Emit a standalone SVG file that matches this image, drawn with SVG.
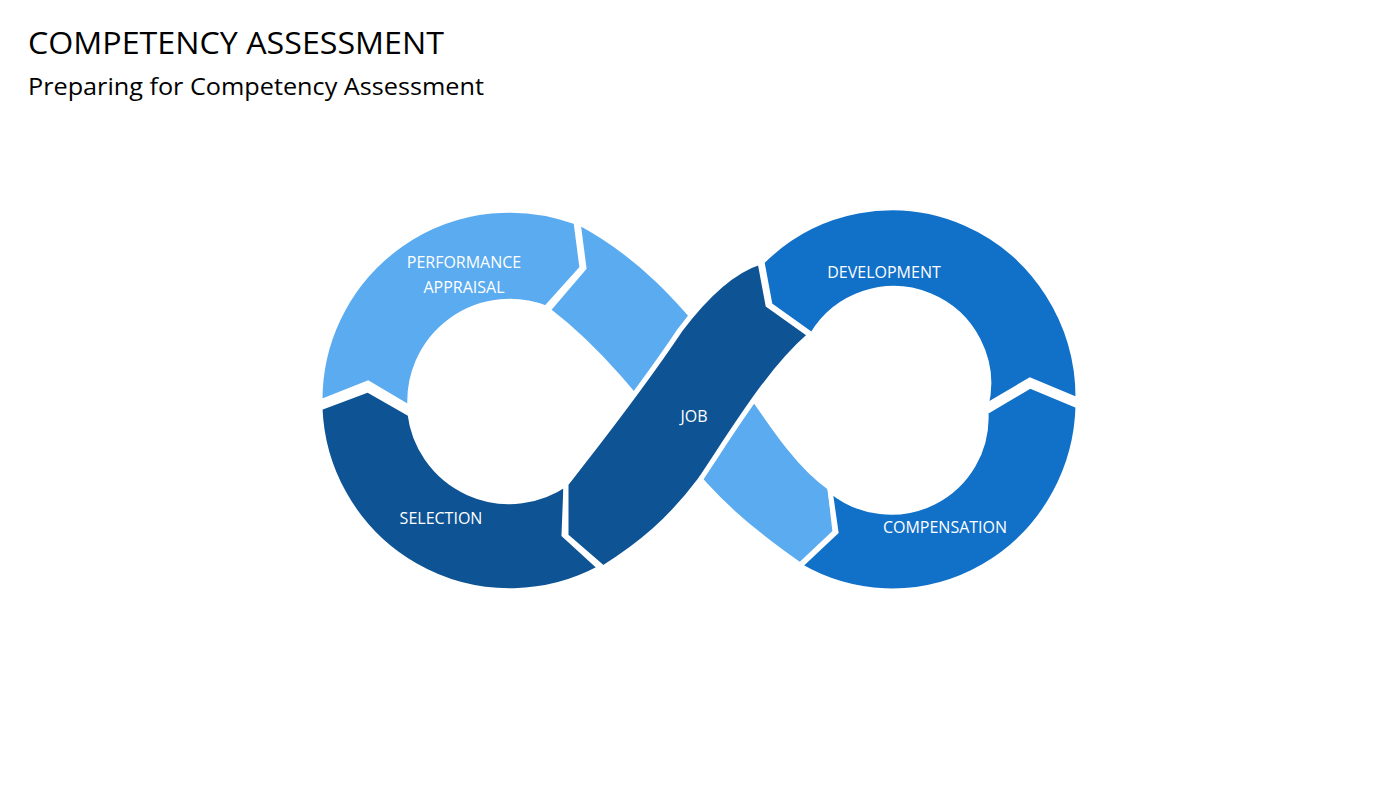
<svg xmlns="http://www.w3.org/2000/svg" width="1400" height="788" viewBox="0 0 1400 788">
<style>
.seg{stroke:#fff;stroke-width:5;stroke-linejoin:miter}
.lt{fill:#5aabf0}.dk{fill:#0e5394}.md{fill:#1170c8}
.lbl{font-family:"Open Sans","Liberation Sans",sans-serif;font-size:16px;fill:#fff;text-anchor:middle}
</style>
<rect width="1400" height="788" fill="#fff"/>
<text x="28" y="54" font-family="Open Sans, Liberation Sans, sans-serif" font-size="31" textLength="416" lengthAdjust="spacingAndGlyphs" fill="#000">COMPETENCY ASSESSMENT</text>
<text x="28" y="95" font-family="Open Sans, Liberation Sans, sans-serif" font-size="23" textLength="456" lengthAdjust="spacingAndGlyphs" fill="#000">Preparing for Competency Assessment</text>
<g id="band-light"><path class="seg lt" d="M578,222 C640,255 680,300 720,350 C760,405 790,460 830,488 L835,532 L800,565 C750,530 715,500 680,455 C640,400 600,350 548,310 L584,268 Z"/></g>
<g id="performance"><path class="seg lt" d="M320,402 A190,190 0 0 1 576,222 L582,268 L546,308 A100,100 0 0 0 410,408 L368,383 Z"/>
<text class="lbl" x="464" y="268">PERFORMANCE</text><text class="lbl" x="464" y="293">APPRAISAL</text></g>
<g id="selection"><path class="seg dk" d="M320,408 L368,390 L410,414 A100,100 0 0 0 566,484 L564,535 L600,568 A190,190 0 0 1 320,408 Z"/>
<text class="lbl" x="441" y="524">SELECTION</text></g>
<g id="job"><path class="seg dk" d="M566,484 C600,440 640,390 680,330 C710,290 735,270 760,262 L768,305 L810,335 C770,370 740,420 700,480 C670,520 640,545 603,568 L566,536 Z"/>
<text class="lbl" x="694" y="422">JOB</text></g>
<g id="development"><path class="seg md" d="M762,262 A186,190 0 0 1 1078,400 L1030,380 L986,406 A95,95 0 0 0 812,335 L770,305 Z"/>
<text class="lbl" x="884" y="278">DEVELOPMENT</text></g>
<g id="compensation"><path class="seg md" d="M1078,406 A186,190 0 0 1 800,566 L836,532 L830,490 A95,95 0 0 0 986,412 L1030,386 Z"/>
<text class="lbl" x="945" y="533">COMPENSATION</text></g>
<g id="connectors"></g>
</svg>
